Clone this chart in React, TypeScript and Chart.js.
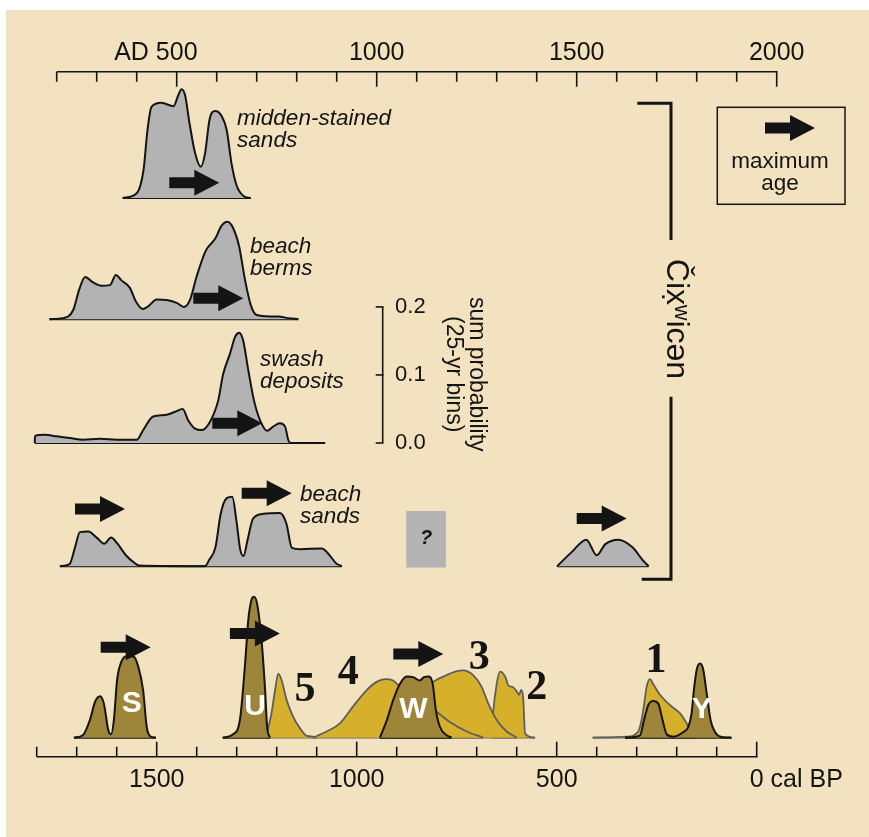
import React, { useEffect, useRef } from "react";
import { Chart, registerables } from "chart.js";
Chart.register(...registerables);

// ---------- Data (gray rows: calendar years AD; bottom row: cal BP) ----------
const middenYears = [365, 400, 417, 427, 437, 462, 492, 504, 512, 521, 532, 546, 560, 571, 582, 596, 612, 625, 637, 650, 667, 685];
const middenProb = [0, 0.007, 0.041, 0.1, 0.134, 0.14, 0.135, 0.151, 0.16, 0.151, 0.11, 0.066, 0.046, 0.066, 0.115, 0.128, 0.121, 0.1, 0.051, 0.018, 0.003, 0];

const bermYears = [182, 216, 241, 256, 271, 291, 312, 333, 348, 362, 383, 398, 415, 429, 450, 475, 500, 518, 533, 550, 573, 596, 612, 627, 641, 656, 671, 685, 700, 733, 754, 779, 804];
const bermProb = [0, 0.0015, 0.013, 0.043, 0.062, 0.054, 0.049, 0.05, 0.065, 0.057, 0.046, 0.026, 0.015, 0.019, 0.029, 0.028, 0.024, 0.018, 0.028, 0.063, 0.101, 0.118, 0.137, 0.143, 0.134, 0.107, 0.057, 0.021, 0.006, 0.004, 0.004, 0.0015, 0];

const swashYears = [145, 146, 171, 200, 233, 266, 308, 350, 400, 416, 441, 471, 496, 515, 529, 546, 562, 583, 604, 616, 633, 646, 656, 666, 679, 693, 708, 726, 741, 758, 771, 779, 785, 871];
const swashProb = [0, 0.0105, 0.012, 0.0098, 0.0074, 0.0049, 0.0063, 0.0049, 0.0049, 0.0187, 0.039, 0.041, 0.046, 0.05, 0.033, 0.021, 0.019, 0.031, 0.063, 0.101, 0.131, 0.156, 0.162, 0.151, 0.107, 0.063, 0.034, 0.018, 0.024, 0.029, 0.024, 0.0044, 0, 0];

const sandYears = [208, 232, 246, 258, 279, 300, 319, 336, 352, 373, 394, 406, 571, 581, 597, 610, 625, 639, 649, 659, 667, 677, 691, 717, 758, 774, 788, 810, 863, 878, 899, 913];
const sandProb = [0, 0.003, 0.028, 0.05, 0.051, 0.042, 0.033, 0.042, 0.033, 0.016, 0.005, 0.001, 0, 0.009, 0.028, 0.077, 0.1, 0.102, 0.068, 0.024, 0.015, 0.038, 0.07, 0.077, 0.078, 0.063, 0.027, 0.025, 0.026, 0.019, 0.004, 0];

const sand2Years = [1451, 1488, 1524, 1550, 1571, 1604, 1639, 1665, 1680];
const sand2Prob = [0, 0.021, 0.039, 0.016, 0.032, 0.039, 0.028, 0.009, 0];

const sBP = [1707, 1684, 1667, 1654, 1642, 1632, 1621, 1614, 1607, 1599, 1588, 1574, 1557, 1546, 1534, 1525, 1517, 1502];
const sProb = [0, 0.004, 0.026, 0.053, 0.061, 0.05, 0.011, 0.005, 0.026, 0.085, 0.112, 0.12, 0.119, 0.104, 0.07, 0.016, 0.0025, 0];

const uBP = [1335, 1309, 1292, 1279, 1271, 1263, 1257, 1249, 1238, 1229, 1224, 1217];
const uProb = [0, 0.005, 0.026, 0.109, 0.173, 0.2025, 0.207, 0.197, 0.144, 0.07, 0.016, 0];

const fiveBP = [1227, 1213, 1204, 1196, 1188, 1175, 1159, 1142, 1125, 1109, 1100];
const fiveProb = [0, 0.036, 0.07, 0.094, 0.085, 0.055, 0.031, 0.014, 0.0025, 0.0015, 0];

const fourBP = [1109, 1075, 1042, 1009, 975, 950, 929, 909, 892, 850, 809, 767, 725, 684];
const fourProb = [0, 0.009, 0.021, 0.046, 0.07, 0.082, 0.086, 0.084, 0.075, 0.059, 0.042, 0.023, 0.009, 0];

const threeBP = [904, 867, 842, 809, 775, 754, 734, 709, 688, 671, 650, 625, 600];
const threeProb = [0, 0.037, 0.062, 0.082, 0.092, 0.097, 0.099, 0.092, 0.075, 0.05, 0.026, 0.009, 0];

const twoBP = [663, 659, 650, 642, 629, 621, 609, 600, 594, 589, 584, 579, 554];
const twoProb = [0, 0.036, 0.079, 0.097, 0.09, 0.077, 0.074, 0.068, 0.063, 0.07, 0.06, 0.006, 0];

const wBP = [942, 925, 909, 892, 875, 859, 842, 832, 819, 810, 802, 792, 775, 763];
const wProb = [0, 0.025, 0.055, 0.079, 0.09, 0.089, 0.084, 0.089, 0.09, 0.079, 0.04, 0.016, 0.0034, 0];

const oneBP = [410, 325, 296, 285, 275, 267, 259, 242, 217, 192, 175, 163, 150];
const oneProb = [0, 0.0015, 0.009, 0.035, 0.075, 0.086, 0.079, 0.063, 0.048, 0.036, 0.021, 0.006, 0];

const yBP = [329, 292, 282, 271, 259, 246, 235, 225, 209, 184, 171, 163, 157, 150, 142, 134, 125, 115, 104, 88, 63];
const yProb = [0, 0.003, 0.025, 0.048, 0.054, 0.05, 0.025, 0.005, 0.0015, 0.008, 0.016, 0.035, 0.07, 0.1, 0.109, 0.101, 0.065, 0.025, 0.008, 0.001, 0];

// maximum-age arrows (tip position)
const grayArrowAD = [606.5, 666.5, 714, 370.75, 787.5, 1625];
const grayArrowLift = [0.0225, 0.0307, 0.029, 0.084, 0.107, 0.07];
const grayArrowRow = [0, 1, 2, 3, 3, 3];
const bottomArrowBP = [1515, 1192, 783.5];
const bottomArrowLift = [0.133, 0.153, 0.123];

// tick labels
const topTicks = [500, 1000, 1500, 2000];
const topMinorTicks = [200, 300, 400, 500, 600, 700, 800, 900, 1000, 1100, 1200, 1300, 1400, 1500, 1600, 1700, 1800, 1900, 2000];
const bottomTicks = [1500, 1000, 500, 0];
const bottomMinorTicks = [1800, 1700, 1600, 1500, 1400, 1300, 1200, 1100, 1000, 900, 800, 700, 600, 500, 400, 300, 200, 100, 0];
const probTicks = [0, 0.1, 0.2];

// row baselines (in probability units of the y scale)
const ROW_BASE = [0.939, 0.761, 0.579, 0.398, 0.146];

const BG = "#F2E2BF";
const GRAY = "#B3B3B3";
const OLIVE = "#9D853A";
const YELLOW = "#D6B02B";
const INK = "#141414";
const YSTROKE = "#5E5E5E";
const SANS = "'Liberation Sans', Arial, Helvetica, sans-serif";
const SERIF = "'Liberation Serif', 'Times New Roman', serif";

let orderCounter = 1000;
function curve(xs: number[], ps: number[], base: number, axis: string, fillColor: string, stroke: string, bw: number) {
  const ord = orderCounter--;
  return [
    {
      type: "line",
      data: xs.map((x, i) => ({ x, y: base + ps[i] })),
      xAxisID: axis,
      yAxisID: "y",
      borderColor: stroke,
      borderWidth: bw,
      backgroundColor: fillColor,
      fill: { value: base },
      pointRadius: 0,
      cubicInterpolationMode: "monotone",
      order: ord,
    },
    {
      type: "line",
      data: [
        { x: xs[0], y: base },
        { x: xs[xs.length - 1], y: base },
      ],
      xAxisID: axis,
      yAxisID: "y",
      borderColor: stroke,
      borderWidth: bw,
      fill: false,
      pointRadius: 0,
      order: ord,
    },
  ];
}

function arrow(ctx: CanvasRenderingContext2D, tipX: number, cy: number) {
  ctx.beginPath();
  ctx.moveTo(tipX, cy);
  ctx.lineTo(tipX - 25, cy - 13);
  ctx.lineTo(tipX - 25, cy - 5.5);
  ctx.lineTo(tipX - 50, cy - 5.5);
  ctx.lineTo(tipX - 50, cy + 5.5);
  ctx.lineTo(tipX - 25, cy + 5.5);
  ctx.lineTo(tipX - 25, cy + 13);
  ctx.closePath();
  ctx.fillStyle = INK;
  ctx.fill();
}

const overlay = {
  id: "overlay",
  beforeDraw(chart: any) {
    const ctx = chart.ctx as CanvasRenderingContext2D;
    ctx.save();
    ctx.fillStyle = "#ffffff";
    ctx.fillRect(0, 0, chart.width, chart.height);
    ctx.fillStyle = BG;
    ctx.fillRect(6, 10, chart.width - 6, chart.height - 10);
    ctx.restore();
  },
  afterDraw(chart: any) {
    const ctx = chart.ctx as CanvasRenderingContext2D;
    const X = chart.scales.x;
    const XB = chart.scales.xbp;
    const Y = chart.scales.y;
    const px = (v: number) => X.getPixelForValue(v);
    const pb = (v: number) => XB.getPixelForValue(v);
    const py = (v: number) => Y.getPixelForValue(v);
    ctx.save();
    ctx.strokeStyle = INK;
    ctx.fillStyle = INK;
    ctx.lineCap = "butt";

    // top axis (AD)
    const ty = py(1.1246);
    ctx.lineWidth = 1.6;
    ctx.beginPath();
    ctx.moveTo(px(topMinorTicks[0]), ty);
    ctx.lineTo(px(topMinorTicks[topMinorTicks.length - 1]) + 0.8, ty);
    ctx.stroke();
    topMinorTicks.forEach((t) => {
      const major = topTicks.includes(t);
      ctx.beginPath();
      ctx.moveTo(px(t), ty);
      ctx.lineTo(px(t), ty + (major ? 15 : 10));
      ctx.stroke();
    });
    ctx.font = `25px ${SANS}`;
    ctx.textBaseline = "middle";
    topTicks.forEach((t, i) => {
      ctx.textAlign = "center";
      ctx.fillText(String(t), px(t), ty - 19);
      if (i === 0) {
        const w = ctx.measureText(String(t)).width;
        ctx.textAlign = "right";
        ctx.fillText("AD ", px(t) - w / 2, ty - 19);
      }
    });

    // bottom axis (cal BP)
    const by = py(0.118);
    ctx.beginPath();
    ctx.moveTo(pb(bottomMinorTicks[0]), by);
    ctx.lineTo(pb(0) + 0.8, by);
    ctx.stroke();
    bottomMinorTicks.forEach((t) => {
      const major = bottomTicks.includes(t);
      ctx.beginPath();
      ctx.moveTo(pb(t), by);
      ctx.lineTo(pb(t), by - (major ? 15 : 10));
      ctx.stroke();
    });
    bottomTicks.forEach((t, i) => {
      ctx.textAlign = "center";
      ctx.fillText(String(t), pb(t), by + 23);
      if (i === bottomTicks.length - 1) {
        const w = ctx.measureText(String(t)).width;
        ctx.textAlign = "left";
        ctx.fillText(" cal BP", pb(t) + w / 2, by + 23);
      }
    });

    // arrows
    grayArrowAD.forEach((ad, i) => arrow(ctx, px(ad), py(ROW_BASE[grayArrowRow[i]] + grayArrowLift[i])));
    bottomArrowBP.forEach((bp, i) => arrow(ctx, pb(bp), py(ROW_BASE[4] + bottomArrowLift[i])));

    // row labels
    ctx.fillStyle = INK;
    ctx.font = `italic 22.5px ${SANS}`;
    ctx.textAlign = "left";
    const rowLabels: [string[], number, number][] = [
      [["midden-stained", "sands"], 651, ROW_BASE[0] + 0.116],
      [["beach", "berms"], 683, ROW_BASE[1] + 0.1065],
      [["swash", "deposits"], 708, ROW_BASE[2] + 0.123],
      [["beach", "sands"], 808, ROW_BASE[3] + 0.1046],
    ];
    rowLabels.forEach(([lines, ad, yv]) => {
      lines.forEach((s, k) => ctx.fillText(s, px(ad), py(yv) + k * 22));
    });

    // question box
    ctx.fillStyle = GRAY;
    ctx.fillRect(px(1074), py(ROW_BASE[3] + 0.081), px(1173) - px(1074), py(ROW_BASE[3] - 0.002) - py(ROW_BASE[3] + 0.081));
    ctx.fillStyle = INK;
    ctx.font = `italic bold 20px ${SANS}`;
    ctx.textAlign = "center";
    ctx.fillText("?", px(1123.5), py(ROW_BASE[3] + 0.04));

    // probability scale
    const sx = px(1015);
    ctx.lineWidth = 1.6;
    ctx.beginPath();
    ctx.moveTo(sx, py(ROW_BASE[2]));
    ctx.lineTo(sx, py(ROW_BASE[2] + 0.2));
    ctx.stroke();
    ctx.font = `22px ${SANS}`;
    ctx.textAlign = "left";
    probTicks.forEach((t) => {
      const yy = py(ROW_BASE[2] + t);
      ctx.beginPath();
      ctx.moveTo(sx - 7, yy);
      ctx.lineTo(sx + 0.8, yy);
      ctx.stroke();
      ctx.fillText(t.toFixed(1), px(1046), yy);
    });
    ctx.save();
    ctx.translate(px(1250), py(0.68));
    ctx.rotate(Math.PI / 2);
    ctx.textAlign = "center";
    ctx.font = `23px ${SANS}`;
    ctx.fillText("sum probability", 0, 0);
    ctx.fillText("(25-yr bins)", 0, 23);
    ctx.restore();

    // bracket
    ctx.lineWidth = 3;
    const bx = px(1735.75);
    ctx.beginPath();
    ctx.moveTo(px(1651.5), py(1.0782));
    ctx.lineTo(bx, py(1.0782));
    ctx.lineTo(bx, py(0.8773));
    ctx.moveTo(bx, py(0.647));
    ctx.lineTo(bx, py(0.3787));
    ctx.lineTo(px(1662.5), py(0.3787));
    ctx.stroke();
    ctx.save();
    ctx.translate(bx + 5, py(0.7612));
    ctx.rotate(Math.PI / 2);
    ctx.textAlign = "center";
    ctx.font = `32px ${SANS}`;
    ctx.fillText("Čix̣ʷicən", 0, 0);
    ctx.restore();

    // legend box
    ctx.lineWidth = 1.5;
    ctx.strokeRect(px(1851.5), py(1.0723), px(2170.75) - px(1851.5), py(0.9298) - py(1.0723));
    arrow(ctx, px(2095.75), py(1.0419));
    ctx.font = `22.5px ${SANS}`;
    ctx.textAlign = "center";
    ctx.fillStyle = INK;
    ctx.fillText("maximum", px(2008.25), py(0.9924));
    ctx.fillText("age", px(2008.25), py(0.9924) + 22);

    // bottom labels
    ctx.fillStyle = "#ffffff";
    ctx.font = `bold 30px ${SANS}`;
    const letters: [string, number, number][] = [
      ["S", 1562.5, 0.1965],
      ["U", 1254, 0.1915],
      ["W", 858.5, 0.1867],
      ["Y", 137.5, 0.1867],
    ];
    letters.forEach(([s, bp, yv]) => ctx.fillText(s, pb(bp), py(yv)));
    ctx.fillStyle = INK;
    ctx.font = `bold 42px ${SERIF}`;
    const nums: [string, number, number][] = [
      ["5", 1129, 0.216],
      ["4", 1021, 0.2406],
      ["3", 693.5, 0.2627],
      ["2", 550, 0.2185],
      ["1", 251.75, 0.2577],
    ];
    nums.forEach(([s, bp, yv]) => ctx.fillText(s, pb(bp), py(yv)));
    ctx.restore();
  },
};

export default function App() {
  const ref = useRef<HTMLCanvasElement>(null);
  useEffect(() => {
    document.body.style.margin = "0";
    orderCounter = 1000;
    const datasets: any[] = [
      ...curve(middenYears, middenProb, ROW_BASE[0], "x", GRAY, INK, 2),
      ...curve(bermYears, bermProb, ROW_BASE[1], "x", GRAY, INK, 2),
      ...curve(swashYears, swashProb, ROW_BASE[2], "x", GRAY, INK, 2),
      ...curve(sandYears, sandProb, ROW_BASE[3], "x", GRAY, INK, 2),
      ...curve(sand2Years, sand2Prob, ROW_BASE[3], "x", GRAY, INK, 2),
      ...curve(sBP, sProb, ROW_BASE[4], "xbp", OLIVE, INK, 2),
      ...curve(fiveBP, fiveProb, ROW_BASE[4], "xbp", YELLOW, YSTROKE, 1.8),
      ...curve(uBP, uProb, ROW_BASE[4], "xbp", OLIVE, INK, 2),
      ...curve(twoBP, twoProb, ROW_BASE[4], "xbp", YELLOW, YSTROKE, 1.8),
      ...curve(threeBP, threeProb, ROW_BASE[4], "xbp", YELLOW, YSTROKE, 1.8),
      ...curve(fourBP, fourProb, ROW_BASE[4], "xbp", YELLOW, YSTROKE, 1.8),
      ...curve(wBP, wProb, ROW_BASE[4], "xbp", OLIVE, INK, 2),
      ...curve(oneBP, oneProb, ROW_BASE[4], "xbp", YELLOW, YSTROKE, 1.8),
      ...curve(yBP, yProb, ROW_BASE[4], "xbp", OLIVE, INK, 2),
    ];
    const chart = new Chart(ref.current as HTMLCanvasElement, {
      type: "line",
      data: { datasets },
      options: {
        animation: false,
        responsive: false,
        devicePixelRatio: 1,
        layout: { padding: 0 },
        plugins: { legend: { display: false }, tooltip: { enabled: false }, title: { display: false } },
        scales: {
          x: { type: "linear", min: 58.25, max: 2230.75, display: false },
          xbp: { type: "linear", min: -280.75, max: 1891.75, reverse: true, display: false },
          y: { type: "linear", min: 0, max: 1.23, display: false },
        },
      },
      plugins: [overlay],
    } as any);
    return () => chart.destroy();
  }, []);
  return <canvas ref={ref} width={869} height={837} style={{ display: "block" }} />;
}
